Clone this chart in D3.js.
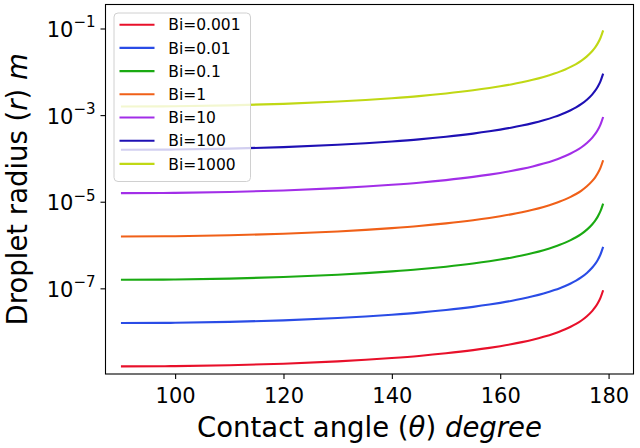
<!DOCTYPE html>
<html><head><meta charset="utf-8">
<script src="https://cdn.jsdelivr.net/npm/d3@7"></script>
<style>
body{margin:0;background:#fff;}
text{font-family:"DejaVu Sans",sans-serif;fill:#000;}
</style></head>
<body><svg id="c" width="640" height="448"></svg>
<script>
// Contact angle (degrees)
const theta = [90,100,110,120,130,140,145,150,155,158,160,162,164,166,168,170,171,172,173,174,175,176,177,177.5,178,178.5,179];
// Droplet radius (m) for each Biot number
const r_bi0001 = [1.58e-9,1.60e-9,1.68e-9,1.82e-9,2.06e-9,2.46e-9,2.75e-9,3.16e-9,3.74e-9,4.22e-9,4.62e-9,5.11e-9,5.73e-9,6.53e-9,7.60e-9,9.10e-9,10.1e-9,11.35e-9,12.97e-9,15.1e-9,18.1e-9,22.7e-9,30.2e-9,36.2e-9,45.3e-9,60.4e-9,90.5e-9];
const r_bi001  = [1.58e-8,1.60e-8,1.68e-8,1.82e-8,2.06e-8,2.46e-8,2.75e-8,3.16e-8,3.74e-8,4.22e-8,4.62e-8,5.11e-8,5.73e-8,6.53e-8,7.60e-8,9.10e-8,10.1e-8,11.35e-8,12.97e-8,15.1e-8,18.1e-8,22.7e-8,30.2e-8,36.2e-8,45.3e-8,60.4e-8,90.5e-8];
const r_bi01   = [1.58e-7,1.60e-7,1.68e-7,1.82e-7,2.06e-7,2.46e-7,2.75e-7,3.16e-7,3.74e-7,4.22e-7,4.62e-7,5.11e-7,5.73e-7,6.53e-7,7.60e-7,9.10e-7,10.1e-7,11.35e-7,12.97e-7,15.1e-7,18.1e-7,22.7e-7,30.2e-7,36.2e-7,45.3e-7,60.4e-7,90.5e-7];
const r_bi1    = [1.58e-6,1.60e-6,1.68e-6,1.82e-6,2.06e-6,2.46e-6,2.75e-6,3.16e-6,3.74e-6,4.22e-6,4.62e-6,5.11e-6,5.73e-6,6.53e-6,7.60e-6,9.10e-6,10.1e-6,11.35e-6,12.97e-6,15.1e-6,18.1e-6,22.7e-6,30.2e-6,36.2e-6,45.3e-6,60.4e-6,90.5e-6];
const r_bi10   = [1.58e-5,1.60e-5,1.68e-5,1.82e-5,2.06e-5,2.46e-5,2.75e-5,3.16e-5,3.74e-5,4.22e-5,4.62e-5,5.11e-5,5.73e-5,6.53e-5,7.60e-5,9.10e-5,10.1e-5,11.35e-5,12.97e-5,15.1e-5,18.1e-5,22.7e-5,30.2e-5,36.2e-5,45.3e-5,60.4e-5,90.5e-5];
const r_bi100  = [1.58e-4,1.60e-4,1.68e-4,1.82e-4,2.06e-4,2.46e-4,2.75e-4,3.16e-4,3.74e-4,4.22e-4,4.62e-4,5.11e-4,5.73e-4,6.53e-4,7.60e-4,9.10e-4,10.1e-4,11.35e-4,12.97e-4,15.1e-4,18.1e-4,22.7e-4,30.2e-4,36.2e-4,45.3e-4,60.4e-4,90.5e-4];
const r_bi1000 = [1.58e-3,1.60e-3,1.68e-3,1.82e-3,2.06e-3,2.46e-3,2.75e-3,3.16e-3,3.74e-3,4.22e-3,4.62e-3,5.11e-3,5.73e-3,6.53e-3,7.60e-3,9.10e-3,10.1e-3,11.35e-3,12.97e-3,15.1e-3,18.1e-3,22.7e-3,30.2e-3,36.2e-3,45.3e-3,60.4e-3,90.5e-3];
const seriesNames = ["Bi=0.001","Bi=0.01","Bi=0.1","Bi=1","Bi=10","Bi=100","Bi=1000"];
const seriesValues = [r_bi0001,r_bi001,r_bi01,r_bi1,r_bi10,r_bi100,r_bi1000];
const seriesColors = ["#e8102a","#2a4ce6","#1aaa12","#f06018","#a22ee8","#1e10b4","#c0d814"];
const xTicks = [100,120,140,160,180];
const yTickExps = [-1,-3,-5,-7];

const L=105.5, R=633.5, T=4.5, B=374;
const svg = d3.select("#c");
const x = d3.scaleLinear().domain([87.15,184.6]).range([L,R]);
const y = d3.scaleLog().domain([Math.pow(10,-8.978),Math.pow(10,-0.446)]).range([B,T]);

const line = d3.line().x((d,i)=>x(theta[i])).y(d=>y(d)).curve(d3.curveMonotoneX);
const g = svg.append("g");
seriesValues.forEach((vals,k)=>{
  g.append("path").attr("d",line(vals)).attr("fill","none")
   .attr("stroke",seriesColors[k]).attr("stroke-width",2.1).attr("stroke-linejoin","round");
});

// axes
const xa = svg.append("g").attr("transform",`translate(0,${B})`)
  .call(d3.axisBottom(x).tickValues(xTicks).tickSize(5).tickPadding(4).tickFormat(d3.format("d")));
xa.select(".domain").remove();
xa.selectAll("line").attr("stroke","#000").attr("stroke-width",1.1);
xa.selectAll("text").attr("font-size","21px").attr("font-family","DejaVu Sans").attr("fill","#000").attr("dy","0.95em");

const ya = svg.append("g").attr("transform",`translate(${L},0)`)
  .call(d3.axisLeft(y).tickValues(yTickExps.map(e=>Math.pow(10,e))).tickSize(5).tickFormat(""));
ya.select(".domain").remove();
ya.selectAll("line").attr("stroke","#000").attr("stroke-width",1.1);
ya.selectAll(".tick").each(function(d,i){
  const t = d3.select(this).append("text").attr("x",-10).attr("y",8)
    .attr("text-anchor","end").attr("font-size","21px");
  t.append("tspan").text("10");
  t.append("tspan").attr("font-size","15px").attr("dy",-9.5).text("\u2212"+Math.abs(yTickExps[i]));
});

// frame
svg.append("rect").attr("x",L).attr("y",T).attr("width",R-L).attr("height",B-T)
  .attr("fill","none").attr("stroke","#000").attr("stroke-width",1.1);

// axis labels
const xl = svg.append("text").attr("x",(L+R)/2).attr("y",437).attr("text-anchor","middle").attr("font-size","27.5px");
xl.append("tspan").text("Contact angle (");
xl.append("tspan").attr("font-style","italic").text("\u03b8");
xl.append("tspan").text(") ");
xl.append("tspan").attr("font-style","italic").text("degree");

const yl = svg.append("text").attr("transform",`translate(27,${(T+B)/2}) rotate(-90)`)
  .attr("text-anchor","middle").attr("font-size","27.5px");
yl.append("tspan").text("Droplet radius (");
yl.append("tspan").attr("font-style","italic").text("r");
yl.append("tspan").text(") ");
yl.append("tspan").attr("font-style","italic").text("m");

// legend
const lg = svg.append("g");
lg.append("rect").attr("x",114).attr("y",13).attr("width",136.5).attr("height",168.5)
  .attr("rx",4).attr("fill","#fff").attr("fill-opacity",0.8).attr("stroke","#d0d0d0").attr("stroke-width",1);
seriesNames.forEach((n,k)=>{
  const yy = 24.7 + k*23.2;
  lg.append("line").attr("x1",119.5).attr("x2",154.5).attr("y1",yy).attr("y2",yy)
    .attr("stroke",seriesColors[k]).attr("stroke-width",2.1);
  lg.append("text").attr("x",168.3).attr("y",yy+5.6).attr("font-size","15.5px").text(n);
});
</script></body></html>
